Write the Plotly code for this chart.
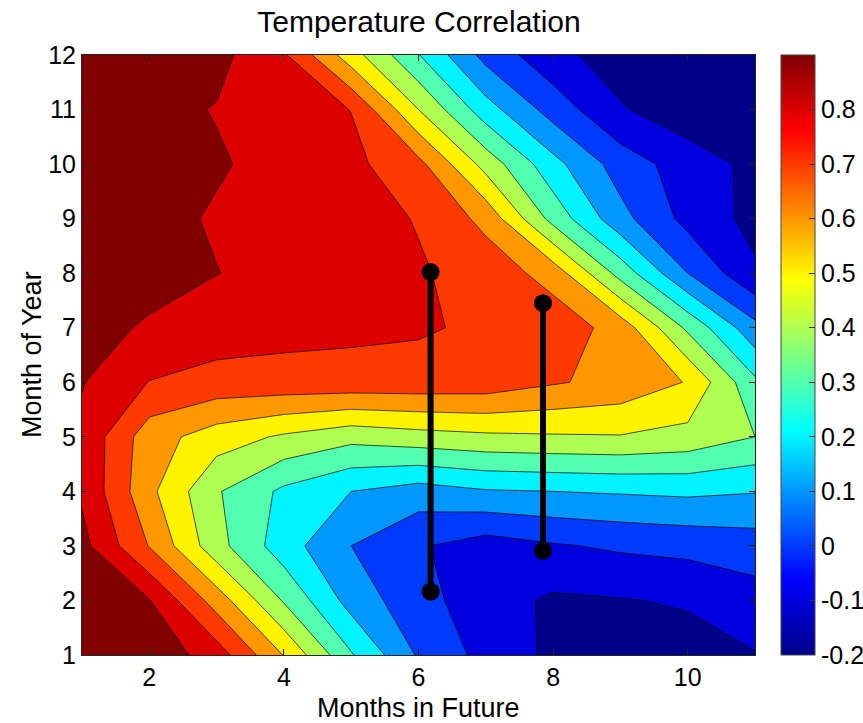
import plotly.graph_objects as go

# Lead time (months in future) and calendar month axes
months_ahead = [1, 2, 3, 4, 5, 6, 7, 8, 9, 10, 11]
month_of_year = [1, 2, 3, 4, 5, 6, 7, 8, 9, 10, 11, 12]

# Correlation per month of year, one value per lead month
jan = [0.97, 0.97, 0.851, 0.595, 0.31, 0.088, -0.033, -0.121, -0.14, -0.14, -0.105]
feb = [0.96, 0.905, 0.655, 0.39, 0.16, 0.035, -0.055, -0.116, -0.105, -0.09, -0.04]
mar = [0.93, 0.695, 0.436, 0.245, 0.10, 0.01, -0.048, -0.01, 0.015, 0.03, 0.05]
apr = [0.885, 0.625, 0.41, 0.279, 0.2, 0.154, 0.191, 0.2, 0.21, 0.22, 0.205]
may = [0.88, 0.645, 0.55, 0.4855, 0.4325, 0.46, 0.48, 0.489, 0.494, 0.467, 0.40]
jun = [0.905, 0.797, 0.765, 0.765, 0.765, 0.765, 0.76, 0.71, 0.67, 0.594, 0.32]
jul = [0.93, 0.89, 0.85, 0.83, 0.82, 0.81, 0.785, 0.76, 0.66, 0.38, 0.13]
aug = [0.95, 0.93, 0.902, 0.87, 0.84, 0.81, 0.76, 0.66, 0.361, 0.1, -0.085]
sep = [0.95, 0.93, 0.89, 0.87, 0.84, 0.794, 0.672, 0.364, 0.133, -0.032, -0.13]
oct = [0.95, 0.94, 0.91, 0.868, 0.825, 0.729, 0.462, 0.233, 0.053, -0.047, -0.126]
nov = [0.95, 0.93, 0.895, 0.85, 0.798, 0.5, 0.243, 0.057, -0.09, -0.16, -0.17]
dec = [0.95, 0.95, 0.93, 0.813, 0.544, 0.304, 0.066, -0.068, -0.15, -0.17, -0.16]

# Contour levels and colour limits
level_start, level_end, level_step = -0.1, 0.9, 0.1
cbar_min, cbar_max = -0.2, 0.9
cbar_ticks = [-0.2, -0.1, 0, 0.1, 0.2, 0.3, 0.4, 0.5, 0.6, 0.7, 0.8]
cbar_labels = ["-0.2", "-0.1", "0", "0.1", "0.2", "0.3", "0.4", "0.5", "0.6", "0.7", "0.8"]

# Two highlighted spans (lead month, month range)
span_a_x = [6.18, 6.18]
span_a_y = [2.16, 8.02]
span_b_x = [7.85, 7.85]
span_b_y = [2.91, 7.45]

z = [jan, feb, mar, apr, may, jun, jul, aug, sep, oct, nov, dec]

jet = [
    [0.0, "rgb(0,0,136)"],
    [0.125, "rgb(0,0,255)"],
    [0.375, "rgb(0,255,255)"],
    [0.625, "rgb(255,255,0)"],
    [0.875, "rgb(255,0,0)"],
    [1.0, "rgb(128,0,0)"],
]

FONT = "Liberation Sans, Arial, Helvetica, sans-serif"
TICK_SIZE = 25

fig = go.Figure()

fig.add_trace(go.Contour(
    x=months_ahead,
    y=month_of_year,
    z=z,
    colorscale=jet,
    contours=dict(start=level_start, end=level_end, size=level_step,
                  coloring="fill", showlines=True),
    line=dict(color="black", width=0.7, smoothing=0),
    showscale=False,
    hoverinfo="skip",
))

# Continuous colour bar
fig.add_trace(go.Scatter(
    x=[months_ahead[0]], y=[month_of_year[0]],
    mode="markers",
    marker=dict(size=1, opacity=0, color=[cbar_min], cmin=cbar_min, cmax=cbar_max,
                colorscale=jet, showscale=True,
                colorbar=dict(
                    x=(781 - 82) / 673, xanchor="left", xref="paper",
                    y=0.5, yanchor="middle", len=1, lenmode="fraction",
                    thickness=34, thicknessmode="pixels",
                    xpad=0, ypad=0,
                    outlinewidth=1, outlinecolor="#444",
                    tickvals=cbar_ticks, ticktext=cbar_labels,
                    ticks="inside", ticklen=6, tickcolor="#333",
                    tickfont=dict(family=FONT, size=TICK_SIZE, color="black"),
                )),
    hoverinfo="skip",
    showlegend=False,
))

for sx, sy in ((span_a_x, span_a_y), (span_b_x, span_b_y)):
    fig.add_trace(go.Scatter(
        x=sx, y=sy, mode="lines+markers",
        line=dict(color="black", width=6),
        marker=dict(color="black", size=18),
        hoverinfo="skip", showlegend=False,
    ))

axis_common = dict(
    showline=True, linecolor="#222", linewidth=1, mirror="ticks",
    ticks="inside", ticklen=6, tickcolor="#222",
    showgrid=False, zeroline=False,
    tickfont=dict(family=FONT, size=TICK_SIZE, color="black"),
)

fig.update_xaxes(range=[1, 11], tickvals=[2, 4, 6, 8, 10], **axis_common)
fig.update_yaxes(range=[1, 12], tickvals=month_of_year, **axis_common)

fig.update_layout(
    width=863, height=723,
    margin=dict(l=82, r=108, t=55, b=68, autoexpand=False),
    paper_bgcolor="white", plot_bgcolor="white",
    showlegend=False,
    title=dict(text="Temperature Correlation", x=(82 + 337) / 863, xanchor="center",
               y=1 - 21 / 723, yanchor="middle", yref="container",
               font=dict(family=FONT, size=30, color="black")),
    annotations=[
        dict(text="Months in Future", xref="paper", yref="paper",
             x=0.5, y=-(708 - 655) / 600, xanchor="center", yanchor="middle",
             showarrow=False, font=dict(family=FONT, size=27, color="black")),
        dict(text="Month of Year", xref="paper", yref="paper",
             x=-(82 - 32) / 673, y=0.5, xanchor="center", yanchor="middle",
             textangle=-90, showarrow=False,
             font=dict(family=FONT, size=27, color="black")),
    ],
)

fig.write_html("out.html")
